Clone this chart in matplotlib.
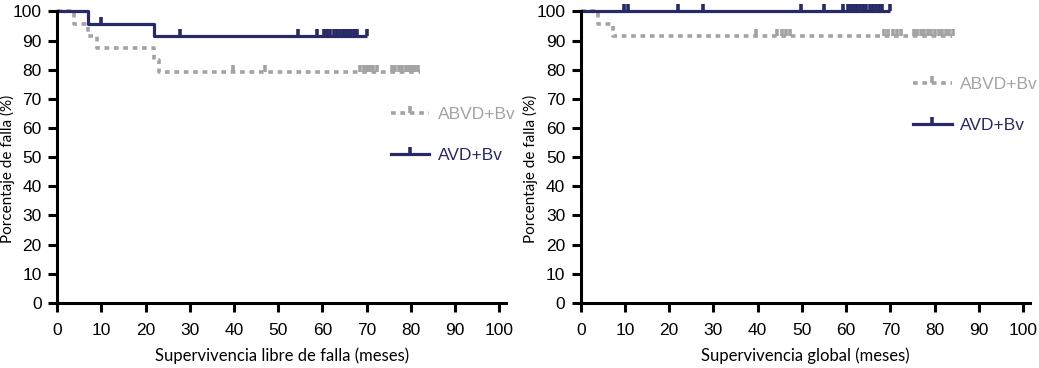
import numpy as np
import matplotlib
matplotlib.use("Agg")
import matplotlib.pyplot as plt
from matplotlib.path import Path
from matplotlib.lines import Line2D

# Kaplan-Meier step data (time in months, % without failure)
lf_avd_t = [0, 7, 22, 70]
lf_avd_s = [100, 95.8, 91.7, 91.7]
lf_avd_cens = [10, 27.8, 54.5, 58.7, 60.4, 61.1, 61.8, 62.5, 63.2, 63.9, 64.6,
               65.3, 66.0, 66.7, 67.4, 67.9, 70]
lf_abvd_t = [0, 3.7, 7, 9, 22, 23, 82]
lf_abvd_s = [100, 95.8, 91.7, 87.5, 83.3, 79.2, 79.2]
lf_abvd_cens = [39.7, 47, 68.5, 69.3, 70, 70.7, 71.5, 72.3, 75.7, 76.5, 77.3,
                78, 78.8, 79.5, 80.3, 81, 81.7]

os_avd_t = [0, 70]
os_avd_s = [100, 100]
os_avd_cens = [9.8, 10.6, 22, 27.7, 49.9, 54.9, 59.2, 60.4, 61.1, 61.8, 62.5,
               63.2, 63.9, 64.6, 65.3, 66.0, 66.7, 67.4, 68.1, 69.9]
os_abvd_t = [0, 3.8, 7.2, 84]
os_abvd_s = [100, 95.8, 91.7, 91.7]
os_abvd_cens = [39.6, 44.4, 45.6, 46.5, 47.4, 68.5, 69.5, 70.5, 71.5, 72.3,
                75.3, 76.1, 76.9, 77.7, 78.5, 79.3, 80.1, 80.9, 81.7, 82.5,
                83.3, 84.1]

labels = ["ABVD+Bv", "AVD+Bv"]
xlabels = ["Supervivencia libre de falla (meses)", "Supervivencia global (meses)"]

NAVY = "#272a66"
GRAY = "#a3a3a3"
TICK_UP = Path([(0, 0), (0, 1)])
LABEL_FONT = ["Lato", "DejaVu Sans"]

plt.rcParams["font.family"] = ["Liberation Sans", "DejaVu Sans"]


def surv_at(t, times, surv):
    idx = np.searchsorted(times, t, side="right") - 1
    return np.asarray(surv)[np.clip(idx, 0, len(surv) - 1)]


def km(ax, times, surv, cens, color, ls, lw):
    ax.step(times, surv, where="post", color=color, ls=ls, lw=lw,
            solid_capstyle="butt", clip_on=False)
    ax.plot(cens, surv_at(cens, times, surv), ls="none", marker=TICK_UP,
            ms=10, mew=2.6, color=color, clip_on=False)


fig = plt.figure(figsize=(10.39, 3.68), dpi=100)
axes = [fig.add_axes([0.055, 0.177, 0.432, 0.804]),
        fig.add_axes([0.559, 0.177, 0.432, 0.804])]

curves = [(lf_abvd_t, lf_abvd_s, lf_abvd_cens, lf_avd_t, lf_avd_s, lf_avd_cens),
          (os_abvd_t, os_abvd_s, os_abvd_cens, os_avd_t, os_avd_s, os_avd_cens)]
leg_anchor = [(0.743, 0.662), (0.741, 0.765)]

for ax, (bt, bs, bc, at, as_, ac), xl, anc in zip(axes, curves, xlabels, leg_anchor):
    km(ax, bt, bs, bc, GRAY, (0, (1.3, 1.3)), 2.6)
    km(ax, at, as_, ac, NAVY, "-", 2.3)

    ax.set_xlim(0, 101.5)
    ax.set_ylim(0, 101.5)
    ax.set_xticks(range(0, 101, 10))
    ax.set_yticks(range(0, 101, 10))
    for s in ["top", "right"]:
        ax.spines[s].set_visible(False)
    for s in ["left", "bottom"]:
        ax.spines[s].set_linewidth(2.2)
    ax.spines["left"].set_bounds(0, 100)
    ax.tick_params(width=2.2, length=6.2, labelsize=12.5, pad=5)
    ax.tick_params(axis="x", pad=8)
    ax.set_xlabel(xl, family=LABEL_FONT, fontsize=12, labelpad=7)
    ax.set_ylabel("Porcentaje de falla (%)", family=LABEL_FONT, fontsize=11)
    ax.yaxis.set_label_coords(-0.095, 0.453)

    handles = [Line2D([], [], color=GRAY, ls=(0, (1.3, 1.3)), lw=2.6,
                      marker=TICK_UP, ms=10, mew=2.6),
               Line2D([], [], color=NAVY, ls="-", lw=2.3,
                      marker=TICK_UP, ms=10, mew=2.6)]
    leg = ax.legend(handles, labels, loc="upper left", bbox_to_anchor=anc,
                    frameon=False, fontsize=12.5, handlelength=2.2,
                    handletextpad=0.5, labelspacing=1.5, numpoints=1,
                    borderpad=0, borderaxespad=0)
    for txt, c in zip(leg.get_texts(), [GRAY, NAVY]):
        txt.set_color(c)

fig.savefig("out.png", dpi=100)
